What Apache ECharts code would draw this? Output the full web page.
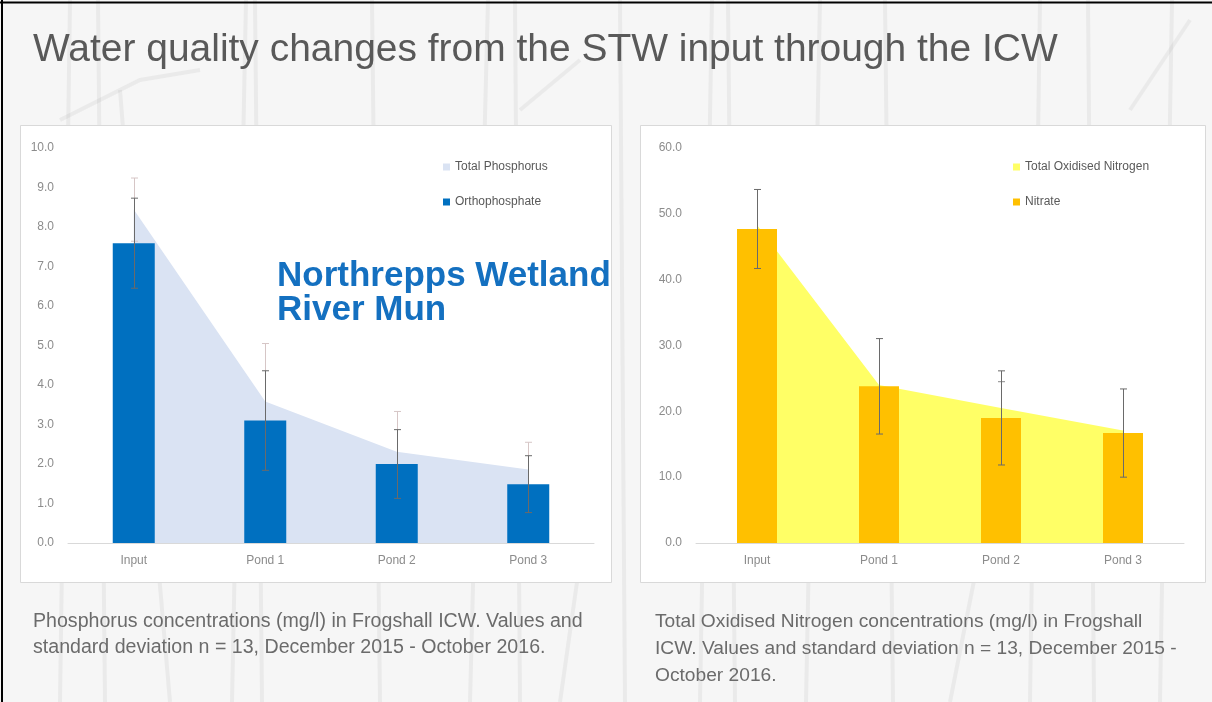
<!DOCTYPE html>
<html>
<head>
<meta charset="utf-8">
<title>Water quality changes from the STW input through the ICW</title>
<script src="https://cdn.jsdelivr.net/npm/echarts@6/dist/echarts.min.js"></script>
<style>
  html, body { margin: 0; padding: 0; background: #f6f6f6; }
  #chart { width: 1212px; height: 702px; }
</style>
</head>
<body>
<div id="chart"></div>
<script>
// Sampling sites along the constructed wetland
const categories = ['Input', 'Pond 1', 'Pond 2', 'Pond 3'];

// Phosphorus (mg/l): mean values and standard deviations
const totalPhosphorus = [8.44, 3.58, 2.31, 1.86];
const totalPhosphorusSd = [0.80, 1.47, 1.02, 0.69];
const orthophosphate = [7.59, 3.10, 2.00, 1.49];
const orthophosphateSd = [1.14, 1.26, 0.87, 0.72];

// Nitrogen (mg/l): mean values and standard deviations
const totalOxidisedNitrogen = [48.3, 24.0, 20.5, 17.1];
const totalOxidisedNitrogenSd = [null, null, 4.0, null];
const nitrate = [47.7, 23.8, 19.0, 16.7];
const nitrateSd = [6.0, 7.25, 7.15, 6.7];

// Axis ranges and tick steps
const phosphorusAxis = { min: 0, max: 10, interval: 1 };
const nitrogenAxis = { min: 0, max: 60, interval: 10 };

// Text
const titleText = 'Water quality changes from the STW input through the ICW';
const siteLines = ['Northrepps Wetland', 'River Mun'];
const phosphorusCaption = [
  'Phosphorus concentrations (mg/l) in Frogshall ICW. Values and',
  'standard deviation n = 13, December 2015 - October 2016.'
];
const nitrogenCaption = [
  'Total Oxidised Nitrogen concentrations (mg/l) in Frogshall',
  'ICW. Values and standard deviation n = 13, December 2015 -',
  'October 2016.'
];

// ---------------------------------------------------------------
const FONT = '"Liberation Sans", Arial, sans-serif';
const TEXT_GREY = '#595959';
const AXIS_GREY = '#8c8c8c';

function errorRows(values, sds) {
  const rows = [];
  values.forEach(function (v, i) {
    if (sds[i] != null) rows.push([i, v - sds[i], v + sds[i]]);
  });
  return rows;
}

function errorBarRenderer(color) {
  return function (params, api) {
    const lo = api.coord([api.value(0), api.value(1)]);
    const hi = api.coord([api.value(0), api.value(2)]);
    const x = Math.round(lo[0]) + 0.5;
    const cap = 3.5;
    const style = { stroke: color, lineWidth: 1 };
    return {
      type: 'group',
      children: [
        { type: 'line', shape: { x1: x, y1: lo[1], x2: x, y2: hi[1] }, style: style },
        { type: 'line', shape: { x1: x - cap, y1: hi[1], x2: x + cap, y2: hi[1] }, style: style },
        { type: 'line', shape: { x1: x - cap, y1: lo[1], x2: x + cap, y2: lo[1] }, style: style }
      ]
    };
  };
}

function valueAxis(gridIndex, range) {
  return {
    type: 'value', gridIndex: gridIndex,
    min: range.min, max: range.max, interval: range.interval,
    axisLine: { show: false }, axisTick: { show: false },
    splitLine: { show: false },
    axisLabel: {
      color: AXIS_GREY, fontFamily: FONT, fontSize: 12, margin: 14,
      formatter: function (v) { return v.toFixed(1); }
    }
  };
}

function categoryAxis(gridIndex) {
  return {
    type: 'category', gridIndex: gridIndex, data: categories, boundaryGap: true,
    axisLine: { lineStyle: { color: '#d9d9d9', width: 1 } },
    axisTick: { show: false },
    axisLabel: { color: AXIS_GREY, fontFamily: FONT, fontSize: 12, margin: 12 }
  };
}

function legendAt(name, left, top) {
  return {
    data: [name], left: left, top: top, orient: 'vertical',
    icon: 'rect', itemWidth: 7, itemHeight: 7, padding: 0,
    textStyle: { color: TEXT_GREY, fontFamily: FONT, fontSize: 12, lineHeight: 14 },
    selectedMode: false
  };
}

// Faint reed stalks behind the panels
const stalkStyle = { stroke: 'rgba(120,120,120,0.09)', lineWidth: 4, fill: null };
const stalks = [
  [[60, 702], [70, 0]], [[105, 702], [98, 0]], [[232, 702], [246, 0]],
  [[262, 702], [255, 0]], [[380, 702], [372, 0]], [[470, 702], [488, 0]],
  [[520, 702], [515, 0]], [[625, 702], [620, 0]], [[700, 702], [712, 0]],
  [[735, 702], [728, 0]], [[806, 702], [820, 0]], [[893, 702], [885, 0]],
  [[1030, 702], [1040, 0]], [[1094, 702], [1088, 0]], [[1160, 702], [1172, 0]],
  [[170, 702], [150, 470], [120, 90]], [[560, 702], [600, 420]],
  [[950, 702], [990, 500], [1060, 380]], [[1130, 110], [1190, 20]],
  [[60, 120], [140, 80], [200, 70]], [[520, 110], [580, 60]]
];
const stalkElements = stalks.map(function (pts) {
  return { type: 'polyline', silent: true, z: -30, shape: { points: pts }, style: stalkStyle };
});

function textLine(text, x, y, size, color, weight, scaleX) {
  return {
    type: 'text', x: x, y: y, z: 10, scaleX: scaleX || 1, originX: 0,
    style: {
      text: text, fill: color, fontFamily: FONT, fontSize: size,
      fontWeight: weight || 'normal', verticalAlign: 'middle', align: 'left'
    }
  };
}

const graphics = [].concat(
  stalkElements,
  [
    // black frame on the top and left edge
    { type: 'line', silent: true, z: -5, shape: { x1: 0, y1: 2.5, x2: 1212, y2: 2.5 }, style: { stroke: '#000', lineWidth: 2 } },
    { type: 'line', silent: true, z: -5, shape: { x1: 2, y1: 0, x2: 2, y2: 702 }, style: { stroke: '#000', lineWidth: 2 } },
    // chart panels
    { type: 'rect', silent: true, z: -10, shape: { x: 20.5, y: 125.5, width: 591, height: 457 }, style: { fill: '#ffffff', stroke: '#d9d9d9', lineWidth: 1 } },
    { type: 'rect', silent: true, z: -10, shape: { x: 640.5, y: 125.5, width: 565, height: 457 }, style: { fill: '#ffffff', stroke: '#d9d9d9', lineWidth: 1 } },
    textLine(titleText, 33, 51, 38, TEXT_GREY, 'normal', 1.025),
    textLine(siteLines[0], 277, 276, 35, '#1470c0', 'bold'),
    textLine(siteLines[1], 277, 310, 35, '#1470c0', 'bold')
  ],
  phosphorusCaption.map(function (t, i) { return textLine(t, 33, 622 + i * 26, 19.6, '#6b6b6b'); }),
  nitrogenCaption.map(function (t, i) { return textLine(t, 655, 622 + i * 27, 19.2, '#6b6b6b'); })
);

const chart = echarts.init(document.getElementById('chart'), null, { renderer: 'canvas' });

chart.setOption({
  backgroundColor: '#f6f6f6',
  animation: false,
  grid: [
    { left: 68, right: 618, top: 148, bottom: 159 },
    { left: 696, right: 28, top: 148, bottom: 159 }
  ],
  xAxis: [categoryAxis(0), categoryAxis(1)],
  yAxis: [valueAxis(0, phosphorusAxis), valueAxis(1, nitrogenAxis)],
  legend: [
    legendAt('Total Phosphorus', 443, 160),
    legendAt('Orthophosphate', 443, 195),
    legendAt('Total Oxidised Nitrogen', 1013, 160),
    legendAt('Nitrate', 1013, 195)
  ],
  graphic: { elements: graphics },
  series: [
    {
      name: 'Total Phosphorus', type: 'line', xAxisIndex: 0, yAxisIndex: 0,
      data: totalPhosphorus, symbol: 'none', z: 0,
      lineStyle: { width: 0 }, itemStyle: { color: '#dae3f3' },
      areaStyle: { color: '#dae3f3', opacity: 1 }
    },
    {
      name: 'tp-error', type: 'custom', xAxisIndex: 0, yAxisIndex: 0, z: 1,
      data: errorRows(totalPhosphorus, totalPhosphorusSd),
      renderItem: errorBarRenderer('#d6c6c6'), silent: true
    },
    {
      name: 'Orthophosphate', type: 'bar', xAxisIndex: 0, yAxisIndex: 0,
      data: orthophosphate, barWidth: 42, z: 2,
      itemStyle: { color: '#0070c0' }
    },
    {
      name: 'op-error', type: 'custom', xAxisIndex: 0, yAxisIndex: 0, z: 4,
      data: errorRows(orthophosphate, orthophosphateSd),
      renderItem: errorBarRenderer('#6a6a6a'), silent: true
    },
    {
      name: 'Total Oxidised Nitrogen', type: 'line', xAxisIndex: 1, yAxisIndex: 1,
      data: totalOxidisedNitrogen, symbol: 'none', z: 0,
      lineStyle: { width: 0 }, itemStyle: { color: '#ffff66' },
      areaStyle: { color: '#ffff66', opacity: 1 }
    },
    {
      name: 'ton-error', type: 'custom', xAxisIndex: 1, yAxisIndex: 1, z: 1,
      data: errorRows(totalOxidisedNitrogen, totalOxidisedNitrogenSd),
      renderItem: errorBarRenderer('#8a8a8a'), silent: true
    },
    {
      name: 'Nitrate', type: 'bar', xAxisIndex: 1, yAxisIndex: 1,
      data: nitrate, barWidth: 40, z: 2,
      itemStyle: { color: '#ffc000' }
    },
    {
      name: 'no3-error', type: 'custom', xAxisIndex: 1, yAxisIndex: 1, z: 4,
      data: errorRows(nitrate, nitrateSd),
      renderItem: errorBarRenderer('#6a6a6a'), silent: true
    }
  ]
});
</script>
</body>
</html>
